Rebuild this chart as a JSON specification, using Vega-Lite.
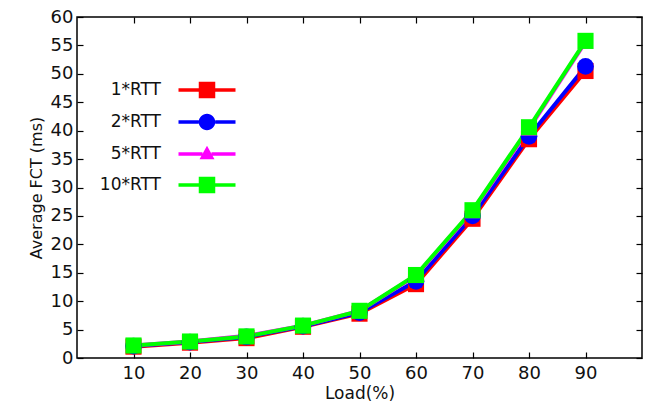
{
  "$schema": "https://vega.github.io/schema/vega-lite/v6.json",
  "width": 565,
  "height": 341,
  "autosize": {"type": "none"},
  "padding": {"left": 77, "top": 17, "right": 6, "bottom": 43},
  "background": "white",
  "config": {
    "font": "DejaVu Sans",
    "view": {"stroke": "black", "strokeWidth": 1.5},
    "axis": {"domain": false, "grid": false, "tickColor": "black", "tickWidth": 1.2, "labelColor": "#111", "titleColor": "#111", "labelFontSize": 18, "titleFontSize": 17, "titleFontWeight": "normal"},
    "legend": {
      "orient": "none", "legendX": 115, "legendY": 58, "title": null,
      "labelFontSize": 17, "labelColor": "#111", "labelAlign": "right", "labelOffset": -61,
      "symbolSize": 900, "symbolStrokeWidth": 0, "symbolOpacity": 1, "rowPadding": 8, "padding": 0
    }
  },
  "data": {"values": [
    {"load": 10, "series": "1*RTT", "fct": 2.0},
    {"load": 20, "series": "1*RTT", "fct": 2.7},
    {"load": 30, "series": "1*RTT", "fct": 3.5},
    {"load": 40, "series": "1*RTT", "fct": 5.5},
    {"load": 50, "series": "1*RTT", "fct": 7.8},
    {"load": 60, "series": "1*RTT", "fct": 13.0},
    {"load": 70, "series": "1*RTT", "fct": 24.5},
    {"load": 80, "series": "1*RTT", "fct": 38.5},
    {"load": 90, "series": "1*RTT", "fct": 50.5},
    {"load": 10, "series": "2*RTT", "fct": 2.1},
    {"load": 20, "series": "2*RTT", "fct": 2.8},
    {"load": 30, "series": "2*RTT", "fct": 3.7},
    {"load": 40, "series": "2*RTT", "fct": 5.6},
    {"load": 50, "series": "2*RTT", "fct": 8.0},
    {"load": 60, "series": "2*RTT", "fct": 13.5},
    {"load": 70, "series": "2*RTT", "fct": 25.0},
    {"load": 80, "series": "2*RTT", "fct": 39.0},
    {"load": 90, "series": "2*RTT", "fct": 51.3},
    {"load": 10, "series": "5*RTT", "fct": 2.2},
    {"load": 20, "series": "5*RTT", "fct": 2.9},
    {"load": 30, "series": "5*RTT", "fct": 3.9},
    {"load": 40, "series": "5*RTT", "fct": 5.7},
    {"load": 50, "series": "5*RTT", "fct": 8.3},
    {"load": 60, "series": "5*RTT", "fct": 14.5},
    {"load": 70, "series": "5*RTT", "fct": 25.8},
    {"load": 80, "series": "5*RTT", "fct": 40.3},
    {"load": 90, "series": "5*RTT", "fct": 55.6},
    {"load": 10, "series": "10*RTT", "fct": 2.2},
    {"load": 20, "series": "10*RTT", "fct": 2.9},
    {"load": 30, "series": "10*RTT", "fct": 3.8},
    {"load": 40, "series": "10*RTT", "fct": 5.7},
    {"load": 50, "series": "10*RTT", "fct": 8.3},
    {"load": 60, "series": "10*RTT", "fct": 14.6},
    {"load": 70, "series": "10*RTT", "fct": 26.0},
    {"load": 80, "series": "10*RTT", "fct": 40.6},
    {"load": 90, "series": "10*RTT", "fct": 55.8}
  ]},
  "layer": [
    {
      "mark": {"type": "line", "strokeWidth": 4},
      "encoding": {
        "x": {"field": "load", "type": "quantitative", "scale": {"domain": [0, 100]},
              "axis": {"orient": "bottom", "values": [10, 20, 30, 40, 50, 60, 70, 80, 90], "title": "Load(%)", "tickSize": -6, "labelPadding": 12, "titlePadding": 3}},
        "y": {"field": "fct", "type": "quantitative", "scale": {"domain": [0, 60]},
              "axis": {"orient": "left", "values": [0, 5, 10, 15, 20, 25, 30, 35, 40, 45, 50, 55, 60], "title": "Average FCT (ms)", "titleFontSize": 16, "tickSize": -6, "labelPadding": 10, "titlePadding": 6}},
        "color": {"field": "series", "type": "nominal",
                  "scale": {"domain": ["1*RTT", "2*RTT", "5*RTT", "10*RTT"], "range": ["#ff0000", "#0000ff", "#ff00ff", "#00ff00"]}},
        "order": {"field": "load"}
      }
    },
    {
      "transform": [{"filter": "datum.series === '1*RTT'"}],
      "mark": {"type": "point", "shape": "square", "filled": true, "opacity": 1, "size": 260, "strokeWidth": 0},
      "encoding": {
        "x": {"field": "load", "type": "quantitative", "axis": null},
        "y": {"field": "fct", "type": "quantitative", "axis": null},
        "color": {"field": "series", "type": "nominal"}
      }
    },
    {
      "transform": [{"filter": "datum.series === '2*RTT'"}],
      "mark": {"type": "point", "shape": "circle", "filled": true, "opacity": 1, "size": 280, "strokeWidth": 0},
      "encoding": {
        "x": {"field": "load", "type": "quantitative", "axis": null},
        "y": {"field": "fct", "type": "quantitative", "axis": null},
        "color": {"field": "series", "type": "nominal"}
      }
    },
    {
      "transform": [{"filter": "datum.series === '5*RTT'"}],
      "mark": {"type": "point", "shape": "triangle-up", "filled": true, "opacity": 1, "size": 250, "strokeWidth": 0},
      "encoding": {
        "x": {"field": "load", "type": "quantitative", "axis": null},
        "y": {"field": "fct", "type": "quantitative", "axis": null},
        "color": {"field": "series", "type": "nominal"}
      }
    },
    {
      "transform": [{"filter": "datum.series === '10*RTT'"}],
      "mark": {"type": "point", "shape": "square", "filled": true, "opacity": 1, "size": 260, "strokeWidth": 0},
      "encoding": {
        "x": {"field": "load", "type": "quantitative", "axis": null},
        "y": {"field": "fct", "type": "quantitative", "axis": null},
        "color": {"field": "series", "type": "nominal"}
      }
    },
    {
      "mark": {"type": "point", "filled": true, "opacity": 0},
      "encoding": {
        "x": {"field": "load", "type": "quantitative",
              "axis": {"orient": "top", "values": [10, 20, 30, 40, 50, 60, 70, 80, 90], "title": null, "labels": false, "tickSize": -6}},
        "y": {"field": "fct", "type": "quantitative",
              "axis": {"orient": "right", "values": [0, 5, 10, 15, 20, 25, 30, 35, 40, 45, 50, 55, 60], "title": null, "labels": false, "tickSize": -6}},
        "color": {"field": "series", "type": "nominal"},
        "shape": {"field": "series", "type": "nominal",
                  "scale": {"domain": ["1*RTT", "2*RTT", "5*RTT", "10*RTT"],
                            "range": [
                              "M-1.9,-0.12H-0.55V0.12H-1.9Z M0.55,-0.12H1.9V0.12H0.55Z M-0.55,-0.55H0.55V0.55H-0.55Z",
                              "M-1.9,-0.12H-0.55V0.12H-1.9Z M0.55,-0.12H1.9V0.12H0.55Z M0.55,0A0.55,0.55 0 1,1 -0.55,0A0.55,0.55 0 1,1 0.55,0Z",
                              "M-1.9,-0.12H-0.3V0.12H-1.9Z M0.3,-0.12H1.9V0.12H0.3Z M0,-0.55L0.5,0.35L-0.5,0.35Z",
                              "M-1.9,-0.12H-0.55V0.12H-1.9Z M0.55,-0.12H1.9V0.12H0.55Z M-0.55,-0.55H0.55V0.55H-0.55Z"
                            ]}}
      }
    }
  ],
  "resolve": {"axis": {"x": "independent", "y": "independent"}}
}
